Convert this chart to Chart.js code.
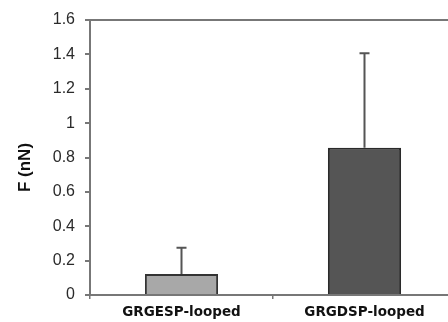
<!DOCTYPE html>
<html>
<head>
<meta charset="utf-8">
<script src="https://cdn.jsdelivr.net/npm/chart.js@4/dist/chart.umd.min.js"></script>
<style>
  html, body { margin: 0; padding: 0; background: #fff; overflow: hidden; }
  #wrap { width: 456px; height: 322px; }
</style>
</head>
<body>
<div id="wrap"><canvas id="myChart"></canvas></div>
<script>
const labels = ["GRGESP-looped", "GRGDSP-looped"];
const force = [0.122, 0.857];
const errUp = [0.153, 0.55];
const yTicks = [0, 0.2, 0.4, 0.6, 0.8, 1, 1.2, 1.4, 1.6];
const yTitle = "F (nN)";

// upper error whiskers with a small cap
const errorBars = {
  id: "errorBars",
  afterDatasetsDraw(chart) {
    const ctx = chart.ctx;
    const x = chart.scales.x;
    const y = chart.scales.y;
    ctx.save();
    ctx.strokeStyle = "#555";
    ctx.lineWidth = 2;
    force.forEach((v, i) => {
      const px = x.getPixelForValue(i);
      const top = y.getPixelForValue(v + errUp[i]);
      const base = y.getPixelForValue(v);
      ctx.beginPath();
      ctx.moveTo(px, base);
      ctx.lineTo(px, top);
      ctx.moveTo(px - 5, top);
      ctx.lineTo(px + 5, top);
      ctx.stroke();
    });
    ctx.restore();
  },
};

// rotated axis title, a bit below the middle of the axis
const axisTitle = {
  id: "axisTitle",
  afterDraw(chart) {
    const ctx = chart.ctx;
    const a = chart.chartArea;
    ctx.save();
    ctx.translate(25, (a.top + a.bottom) / 2 + 10);
    ctx.rotate(-Math.PI / 2);
    ctx.font = "bold 17px 'Liberation Sans'";
    ctx.fillStyle = "#111";
    ctx.textAlign = "center";
    ctx.textBaseline = "middle";
    ctx.fillText(yTitle, 0, 0);
    ctx.restore();
  },
};

new Chart("myChart", {
  type: "bar",
  data: {
    labels: labels,
    datasets: [
      {
        data: force,
        backgroundColor: ["#a8a8a8", "#555555"],
        borderColor: ["#333", "#2a2a2a"],
        borderWidth: 2,
        categoryPercentage: 1,
        barPercentage: 0.4,
      },
    ],
  },
  options: {
    responsive: true,
    maintainAspectRatio: false,
    animation: false,
    layout: { padding: { top: 20, right: 0, left: 0, bottom: 0 } },
    plugins: { legend: { display: false }, tooltip: { enabled: false } },
    scales: {
      x: {
        afterFit(scale) { scale.height = 27; },
        grid: {
          offset: true,
          drawOnChartArea: false,
          color: "#777",
          tickLength: 4,
          lineWidth: 1.5,
        },
        border: { color: "#777", width: 2 },
        ticks: {
          color: "#111",
          padding: 5,
          font: { family: "DejaVu Sans", size: 13.5, weight: "bold" },
        },
      },
      y: {
        min: 0,
        max: 1.6,
        afterFit(scale) { scale.width = 90; },
        afterBuildTicks(scale) {
          scale.ticks = yTicks.map((v) => ({ value: v }));
        },
        grid: {
          color: (c) => (c.tick && c.tick.value === 1.6 ? "#777" : "rgba(0,0,0,0)"),
          tickColor: "#777",
          tickLength: 5,
          lineWidth: 2,
        },
        border: { color: "#777", width: 2 },
        ticks: {
          color: "#2a2a2a",
          padding: 10,
          font: { family: "Liberation Sans", size: 16 },
          callback: (v) => String(v),
        },
      },
    },
  },
  plugins: [errorBars, axisTitle],
});
</script>
</body>
</html>
